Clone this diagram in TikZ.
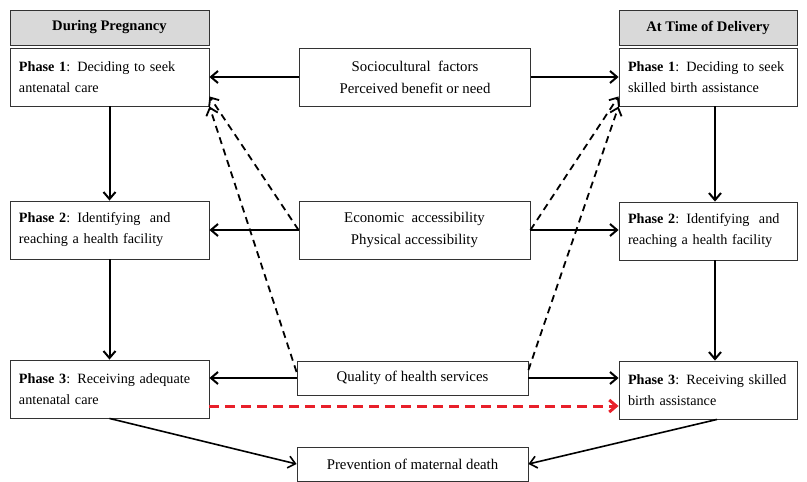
\documentclass[tikz,border=0pt]{standalone}
\usepackage{fontspec}
\setmainfont{Liberation Serif}
\usetikzlibrary{arrows.meta}
\definecolor{hdrgray}{RGB}{217,217,217}
\definecolor{dashred}{RGB}{232,32,42}
\tikzset{
  box/.style={draw=black!80, line width=0.9pt, rectangle, inner sep=0pt,
    font=\fontsize{14.2}{21}\selectfont},
  phasebox/.style={box, minimum width=199, minimum height=58, text width=181, align=left},
  midbox/.style={box, minimum width=231, minimum height=58, align=center,
    font=\fontsize{14.8}{22}\selectfont},
  hdrbox/.style={box, fill=hdrgray, minimum height=35, font=\fontsize{14.6}{16}\selectfont\bfseries},
  link/.style={->, line width=2pt},
  dlink/.style={->, line width=1.8pt, dash pattern=on 7pt off 5pt},
}
\begin{document}
\begin{tikzpicture}
    [x=1pt,y=-1pt,>={Straight Barb[length=7pt,width=12pt]}]
  \useasboundingbox (0,0) rectangle (807,482);
  % left column
  \node[hdrbox, minimum width=199] (hdrL) at (109.5,27.5) {During Pregnancy};
  \node[phasebox] (preg1) at (109.5,77) {\textbf{Phase 1}: Deciding to seek\\antenatal care};
  \node[phasebox] (preg2) at (109.5,230) {\textbf{Phase 2}: Identifying\ \ and\\reaching a health facility};
  \node[phasebox] (preg3) at (109.5,389) {\textbf{Phase 3}: Receiving adequate\\antenatal care};
  % right column
  \node[hdrbox, minimum width=178] (hdrR) at (708,27.5) {At Time of Delivery};
  \node[phasebox, minimum width=178, text width=160] (deliv1) at (708,77) {\textbf{Phase 1}: Deciding to seek\\skilled birth assistance};
  \node[phasebox, minimum width=178, text width=160] (deliv2) at (708,231) {\textbf{Phase 2}: Identifying\ \ and\\reaching a health facility};
  \node[phasebox, minimum width=178, text width=160] (deliv3) at (708,390) {\textbf{Phase 3}: Receiving skilled\\birth assistance};
  % middle column
  \node[midbox] (socio) at (415,77) {Sociocultural\ \ factors\\Perceived benefit or need};
  \node[midbox] (econ) at (414.5,230) {Economic\ \ accessibility\\Physical accessibility};
  \node[midbox, minimum height=34] (quality) at (412.5,378) {Quality of health services};
  \node[midbox, minimum height=34] (prevent) at (412.5,464) {Prevention of maternal death};

  \foreach \from/\to in {preg1/preg2, preg2/preg3}
    \draw[link] (\from) -- (\to);
  \foreach \from/\to in {deliv1/deliv2, deliv2/deliv3}
    \draw[link] ([xshift=7]\from.south) -- ([xshift=7]\to.north);
  \foreach \from/\to in {socio/preg1, econ/preg2, quality/preg3}
    \draw[link] (\from.west) -- (\from.west -| \to.east);
  \foreach \from/\to in {socio/deliv1, econ/deliv2, quality/deliv3}
    \draw[link] (\from.east) -- (\from.east -| \to.west);

  \draw[dlink] (econ.west) -- ([yshift=10]preg1.south east);
  \draw[dlink] ([yshift=6]quality.west) -- (preg1.south east);
  \draw[dlink] (econ.east) -- ([yshift=10]deliv1.south west);
  \draw[dlink] ([yshift=8]quality.east) -- (deliv1.south west);

  \draw[->, dashred, line width=3pt, dash pattern=on 10pt off 6pt]
    ([yshift=-17]preg3.east) -- ([yshift=-16]deliv3.west);

  \draw[link, line width=1.6pt] (preg3.south) -- (prevent.west);
  \draw[link, line width=1.6pt] ([xshift=9]deliv3.south) -- (prevent.east);
\end{tikzpicture}
\end{document}
